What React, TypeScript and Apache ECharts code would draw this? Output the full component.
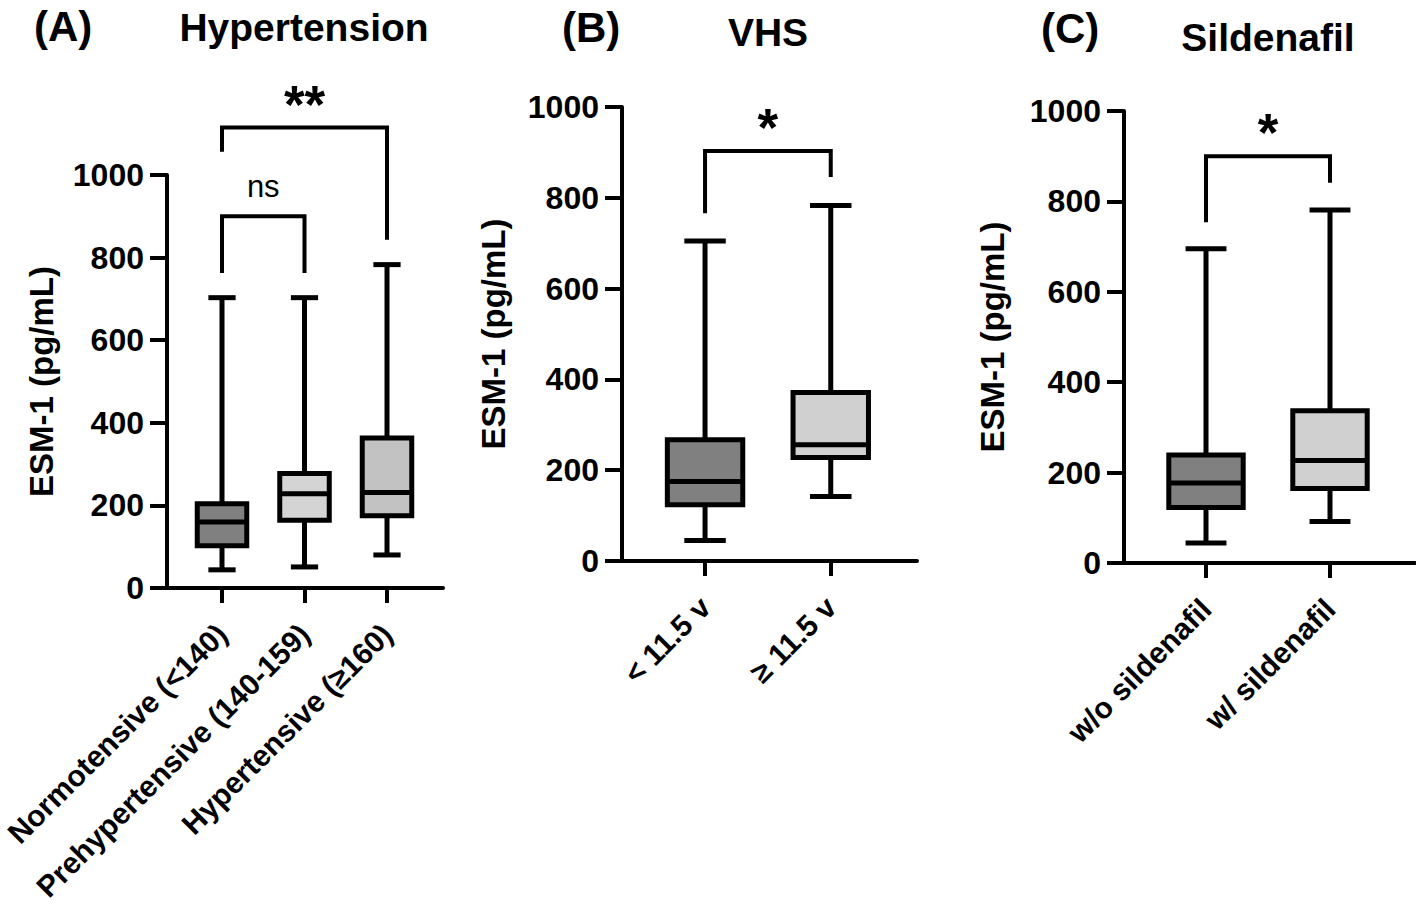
import React, { useEffect, useRef } from 'react';
import * as echarts from 'echarts';

// ---------- DATA ----------
const yTicks = [0, 200, 400, 600, 800, 1000];

const hypCategories = ['Normotensive (<140)', 'Prehypertensive (140-159)', 'Hypertensive (≥160)'];
const hypMin = [44, 51, 80];
const hypQ1 = [102, 164, 175];
const hypMedian = [160, 228, 231];
const hypQ3 = [204, 277, 363];
const hypMax = [703, 703, 783];
const hypFill = ['#808080', '#d4d4d4', '#c2c2c2'];
const hypBracketFrom = [0, 0];
const hypBracketTo = [1, 2];
const hypBracketTop = [900, 1115];
const hypBracketLeftEnd = [763, 1056];
const hypBracketRightEnd = [763, 843];
const hypBracketLabel = ['ns', '**'];

const vhsCategories = ['< 11.5 v', '≥ 11.5 v'];
const vhsMin = [45, 142];
const vhsQ1 = [124, 228];
const vhsMedian = [175, 256];
const vhsQ3 = [267, 371];
const vhsMax = [705, 783];
const vhsFill = ['#808080', '#d0d0d0'];
const vhsBracketFrom = [0];
const vhsBracketTo = [1];
const vhsBracketTop = [903];
const vhsBracketLeftEnd = [766];
const vhsBracketRightEnd = [846];
const vhsBracketLabel = ['*'];

const silCategories = ['w/o sildenafil', 'w/ sildenafil'];
const silMin = [44, 92];
const silQ1 = [123, 165];
const silMedian = [177, 227];
const silQ3 = [239, 337];
const silMax = [695, 781];
const silFill = ['#808080', '#d0d0d0'];
const silBracketFrom = [0];
const silBracketTo = [1];
const silBracketTop = [900];
const silBracketLeftEnd = [754];
const silBracketRightEnd = [841];
const silBracketLabel = ['*'];

// ---------- LAYOUT ----------
const FONT = '"Liberation Sans", Arial, Helvetica, sans-serif';

const panels = [
  {
    letter: '(A)', title: 'Hypertension',
    categories: hypCategories, min: hypMin, q1: hypQ1, med: hypMedian, q3: hypQ3, max: hypMax, fill: hypFill,
    bFrom: hypBracketFrom, bTo: hypBracketTo, bTop: hypBracketTop, bL: hypBracketLeftEnd, bR: hypBracketRightEnd, bLabel: hypBracketLabel,
    axisX: 167, catLeft: 180.75, catWidth: 247.5, frameRight: 443, top: 175, bottom: 588, nameGap: 109,
    letterX: 34, letterY: 26, titleX: 304, titleY: 27,
  },
  {
    letter: '(B)', title: 'VHS',
    categories: vhsCategories, min: vhsMin, q1: vhsQ1, med: vhsMedian, q3: vhsQ3, max: vhsMax, fill: vhsFill,
    bFrom: vhsBracketFrom, bTo: vhsBracketTo, bTop: vhsBracketTop, bL: vhsBracketLeftEnd, bR: vhsBracketRightEnd, bLabel: vhsBracketLabel,
    axisX: 622, catLeft: 642.2, catWidth: 251.4, frameRight: 917, top: 107, bottom: 561, nameGap: 112,
    letterX: 562, letterY: 27, titleX: 768, titleY: 32,
  },
  {
    letter: '(C)', title: 'Sildenafil',
    categories: silCategories, min: silMin, q1: silQ1, med: silMedian, q3: silQ3, max: silMax, fill: silFill,
    bFrom: silBracketFrom, bTo: silBracketTo, bTop: silBracketTop, bL: silBracketLeftEnd, bR: silBracketRightEnd, bLabel: silBracketLabel,
    axisX: 1124, catLeft: 1144, catWidth: 248, frameRight: 1415, top: 111, bottom: 563, nameGap: 115,
    letterX: 1041, letterY: 28, titleX: 1268, titleY: 37,
  },
];

function makeRenderItem(fills: string[]) {
  return (params: any, api: any) => {
    const idx = api.value(0);
    const pMin = api.coord([idx, api.value(1)]);
    const pQ1 = api.coord([idx, api.value(2)]);
    const pMed = api.coord([idx, api.value(3)]);
    const pQ3 = api.coord([idx, api.value(4)]);
    const pMax = api.coord([idx, api.value(5)]);
    const band = api.size([1, 0])[0];
    const boxW = band * 0.6;
    const capW = band * 0.33;
    const cx = pMin[0];
    const st = { stroke: '#000', lineWidth: 5, lineCap: 'butt', fill: null };
    return {
      type: 'group',
      children: [
        { type: 'line', shape: { x1: cx, y1: pMax[1], x2: cx, y2: pQ3[1] }, style: st },
        { type: 'line', shape: { x1: cx, y1: pQ1[1], x2: cx, y2: pMin[1] }, style: st },
        { type: 'line', shape: { x1: cx - capW / 2, y1: pMax[1], x2: cx + capW / 2, y2: pMax[1] }, style: st },
        { type: 'line', shape: { x1: cx - capW / 2, y1: pMin[1], x2: cx + capW / 2, y2: pMin[1] }, style: st },
        {
          type: 'rect',
          shape: { x: cx - boxW / 2, y: pQ3[1], width: boxW, height: pQ1[1] - pQ3[1] },
          style: { fill: fills[params.dataIndex], stroke: '#000', lineWidth: 5, lineJoin: 'miter' },
        },
        { type: 'line', shape: { x1: cx - boxW / 2, y1: pMed[1], x2: cx + boxW / 2, y2: pMed[1] }, style: st },
      ],
    };
  };
}

export default function App() {
  const ref = useRef<HTMLDivElement>(null);

  useEffect(() => {
    if (!ref.current) return;
    const chart = echarts.init(ref.current, undefined, { renderer: 'svg' });

    const grid: any[] = [];
    const xAxis: any[] = [];
    const yAxis: any[] = [];
    const series: any[] = [];
    const titleGraphics: any[] = [];

    panels.forEach((p, pi) => {
      const catIdx = pi * 2;
      const frameIdx = pi * 2 + 1;
      const height = p.bottom - p.top;
      grid.push({ left: p.catLeft, top: p.top, width: p.catWidth, height, containLabel: false, outerBoundsMode: 'none' });
      grid.push({ left: p.axisX, top: p.top, width: p.frameRight - p.axisX, height, containLabel: false, outerBoundsMode: 'none' });

      xAxis.push({
        type: 'category', gridIndex: catIdx, data: p.categories, boundaryGap: true,
        axisLine: { show: false },
        axisTick: { show: true, alignWithLabel: true, length: 15, lineStyle: { color: '#000', width: 4 } },
        axisLabel: {
          interval: 0, rotate: 45, margin: 41, color: '#000', fontSize: 30, fontWeight: 'bold', fontFamily: FONT,
        },
        splitLine: { show: false },
      });
      xAxis.push({
        type: 'value', gridIndex: frameIdx, min: 0, max: 1,
        axisLine: { show: true, onZero: false, lineStyle: { color: '#000', width: 4 } },
        axisTick: { show: false }, axisLabel: { show: false }, splitLine: { show: false },
      });
      yAxis.push({ type: 'value', gridIndex: catIdx, min: 0, max: 1000, show: false });
      yAxis.push({
        type: 'value', gridIndex: frameIdx, min: yTicks[0], max: yTicks[yTicks.length - 1], interval: 200,
        axisLine: { show: true, onZero: false, lineStyle: { color: '#000', width: 4 } },
        axisTick: { show: true, length: 17, lineStyle: { color: '#000', width: 4 } },
        axisLabel: {
          margin: 23, color: '#000', fontSize: 32, fontWeight: 'bold', fontFamily: FONT,
          formatter: (v: number) => String(v),
        },
        splitLine: { show: false },
        name: 'ESM-1 (pg/mL)', nameLocation: 'middle', nameGap: p.nameGap,
        nameTextStyle: { color: '#000', fontSize: 33, fontWeight: 'bold', fontFamily: FONT },
      });

      series.push({
        type: 'custom', xAxisIndex: catIdx, yAxisIndex: catIdx, clip: false,
        encode: { x: 0, y: [1, 2, 3, 4, 5] },
        data: p.categories.map((_c, i) => [i, p.min[i], p.q1[i], p.med[i], p.q3[i], p.max[i]]),
        renderItem: makeRenderItem(p.fill),
        z: 3,
      });

      p.bTop.forEach((top, bi) => {
        series.push({
          type: 'line', xAxisIndex: catIdx, yAxisIndex: catIdx, clip: false, symbol: 'none', silent: true,
          lineStyle: { color: '#000', width: 4, join: 'miter', cap: 'butt' },
          data: [[p.bFrom[bi], p.bL[bi]], [p.bFrom[bi], top], [p.bTo[bi], top], [p.bTo[bi], p.bR[bi]]],
        });
      });

      titleGraphics.push({
        type: 'text', x: p.letterX, y: p.letterY,
        style: { text: p.letter, font: `bold 42px ${FONT}`, fill: '#000', textAlign: 'left', textVerticalAlign: 'middle' },
      });
      titleGraphics.push({
        type: 'text', x: p.titleX, y: p.titleY,
        style: { text: p.title, font: `bold 39px ${FONT}`, fill: '#000', textAlign: 'center', textVerticalAlign: 'middle' },
      });
    });

    chart.setOption({
      animation: false,
      backgroundColor: '#fff',
      grid, xAxis, yAxis, series,
      graphic: titleGraphics,
    });

    // significance labels, positioned from the library's own scales
    const labels: any[] = [];
    panels.forEach((p, pi) => {
      const catIdx = pi * 2;
      p.bTop.forEach((top, bi) => {
        const a = chart.convertToPixel({ xAxisIndex: catIdx, yAxisIndex: catIdx }, [p.bFrom[bi], top]) as number[];
        const b = chart.convertToPixel({ xAxisIndex: catIdx, yAxisIndex: catIdx }, [p.bTo[bi], top]) as number[];
        const isStar = p.bLabel[bi].indexOf('*') >= 0;
        labels.push({
          type: 'text', x: (a[0] + b[0]) / 2, y: a[1] + (isStar ? 3 : -14),
          style: {
            text: p.bLabel[bi],
            font: isStar ? `bold 53px ${FONT}` : `31px ${FONT}`,
            fill: '#000', textAlign: 'center', textVerticalAlign: 'bottom',
          },
        });
      });
    });
    chart.setOption({ graphic: [...titleGraphics, ...labels] });

    return () => chart.dispose();
  }, []);

  return (
    <div
      ref={ref}
      style={{ position: 'absolute', left: 0, top: 0, width: 1416, height: 907, background: '#fff' }}
    />
  );
}
